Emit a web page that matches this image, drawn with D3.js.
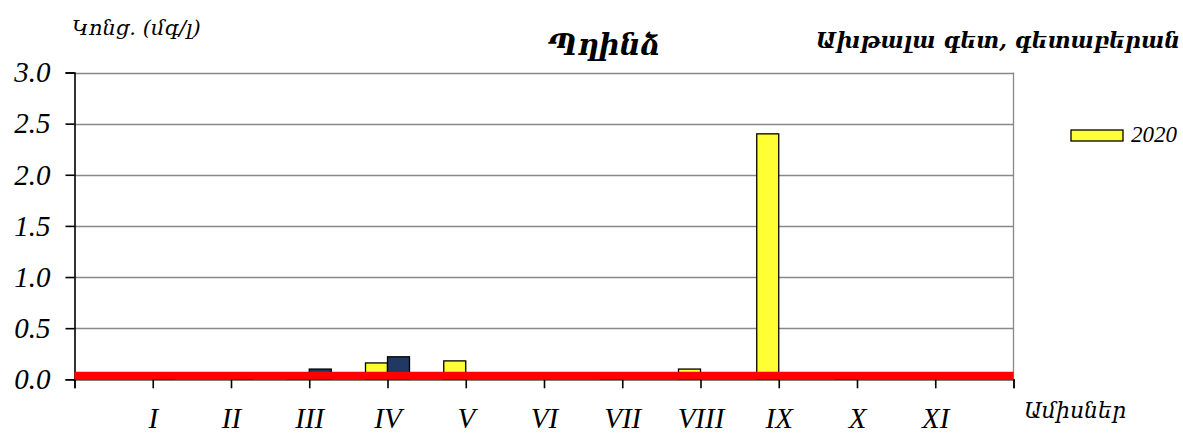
<!DOCTYPE html>
<html><head><meta charset="utf-8">
<script src="https://cdn.jsdelivr.net/npm/d3@7"></script>
<style>
html,body{margin:0;padding:0;background:#fff;}
svg{display:block;}
.num{font-family:"Liberation Serif","Times New Roman",serif;font-style:italic;}
.arm{font-family:"DejaVu Serif",serif;font-style:italic;}
</style></head>
<body>
<svg id="c" width="1183" height="434"></svg>
<script>
const months = ["I","II","III","IV","V","VI","VII","VIII","IX","X","XI"];
const series2020 = [0, 0, 0.06, 0.16, 0.18, 0, 0.06, 0.10, 2.40, 0.06, 0];
const seriesOther = [0.06, 0.06, 0.10, 0.22, 0, 0, 0, 0, 0, 0, 0];
const normValue = 0.035;
const yTicks = [0, 0.5, 1.0, 1.5, 2.0, 2.5, 3.0];
const legendLabels = ["2020"];

const svg = d3.select("#c");
const x = d3.scaleLinear().domain([0, months.length + 1]).range([74.5, 1013.5]);
const y = d3.scaleLinear().domain([0, 3]).range([379.3, 72.5]);
const barW = 22;

// gridlines
svg.append("g").selectAll("line").data(yTicks.filter(v => v > 0)).join("line")
  .attr("x1", x(0)).attr("x2", x(months.length + 1))
  .attr("y1", d => Math.round(y(d)) + 0.5).attr("y2", d => Math.round(y(d)) + 0.5)
  .attr("stroke", "#888").attr("stroke-width", 1.3);
// right border
svg.append("line").attr("x1", x(months.length + 1)).attr("x2", x(months.length + 1))
  .attr("y1", y(3)).attr("y2", y(0)).attr("stroke", "#888").attr("stroke-width", 1.3);

// bars
const bars = svg.append("g");
bars.selectAll("rect.a").data(series2020).join("rect").attr("class", "a")
  .attr("x", (d, i) => x(i + 1) - barW).attr("width", barW)
  .attr("y", d => y(d)).attr("height", d => y(0) - y(d))
  .attr("fill", "#ffff33").attr("stroke", "#000").attr("stroke-width", 1.3)
  .style("display", d => d > 0 ? null : "none");
bars.selectAll("rect.b").data(seriesOther).join("rect").attr("class", "b")
  .attr("x", (d, i) => x(i + 1)).attr("width", barW)
  .attr("y", d => y(d)).attr("height", d => y(0) - y(d))
  .attr("fill", "#1f3864").attr("stroke", "#000").attr("stroke-width", 1.3)
  .style("display", d => d > 0 ? null : "none");

// y axis
const ya = svg.append("g").attr("transform", `translate(${x(0)},0)`)
  .call(d3.axisLeft(y).tickValues(yTicks).tickFormat(d3.format(".1f")).tickSize(9).tickPadding(15));
ya.select(".domain").attr("stroke", "#000").attr("stroke-width", 1.6);
ya.selectAll(".tick line").attr("stroke", "#000").attr("stroke-width", 1.6);
ya.selectAll("text").attr("class", "num").attr("font-size", 29).attr("fill", "#000");

// x axis
const xa = svg.append("g").attr("transform", `translate(0,${y(0)})`)
  .call(d3.axisBottom(x).tickValues(d3.range(0, months.length + 2))
    .tickFormat(i => months[i - 1] || "").tickSize(9).tickPadding(19));
xa.select(".domain").attr("stroke", "#000").attr("stroke-width", 1.3);
xa.selectAll(".tick line").attr("stroke", "#000").attr("stroke-width", 1.6);
xa.selectAll("text").attr("class", "num").attr("font-size", 29).attr("fill", "#000");

// norm line
svg.append("line").attr("x1", x(0)).attr("x2", x(months.length + 1))
  .attr("y1", y(normValue)).attr("y2", y(normValue))
  .attr("stroke", "#ff0000").attr("stroke-width", 8);

// titles
svg.append("text").attr("class", "arm").attr("x", 72).attr("y", 35)
  .attr("font-size", 21).text("Կոնց. (մգ/լ)");
svg.append("text").attr("class", "arm").attr("x", 604).attr("y", 55)
  .attr("text-anchor", "middle").attr("font-size", 29).attr("font-weight", "bold").text("Պղինձ");
svg.append("text").attr("class", "arm").attr("x", 1180).attr("y", 48)
  .attr("text-anchor", "end").attr("font-size", 22).attr("font-weight", "bold").text("Ախթալա գետ, գետաբերան");
svg.append("text").attr("class", "arm").attr("x", 1024).attr("y", 418)
  .attr("font-size", 22).text("Ամիսներ");

// legend
const lg = svg.append("g");
lg.selectAll("rect").data(legendLabels).join("rect")
  .attr("x", 1071).attr("y", 130).attr("width", 52).attr("height", 11)
  .attr("fill", "#ffff33").attr("stroke", "#000").attr("stroke-width", 1.3);
lg.selectAll("text").data(legendLabels).join("text").attr("class", "num")
  .attr("x", 1131).attr("y", 142).attr("font-size", 23).text(d => d);
</script>
</body></html>
